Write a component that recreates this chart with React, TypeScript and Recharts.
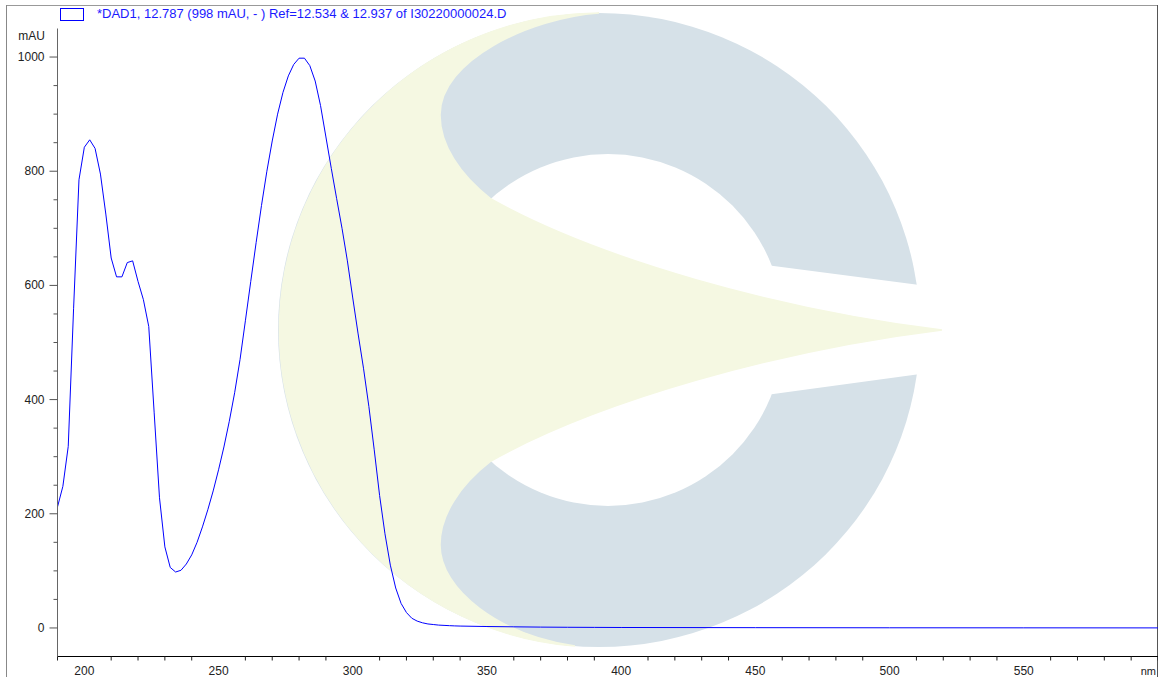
import React from 'react';
import { LineChart, Line, XAxis, YAxis } from 'recharts';

// UV spectrum (nm, mAU)
const wavelengths = [
  190, 192, 194, 196, 198, 200, 202, 204, 206, 208, 210, 212, 214, 216, 218, 220,
  222, 224, 226, 228, 230, 232, 234, 236, 238, 240, 242, 244, 246, 248, 250, 252,
  254, 256, 258, 260, 262, 264, 266, 268, 270, 272, 274, 276, 278, 280, 282, 284,
  286, 288, 290, 292, 294, 296, 298, 300, 302, 304, 306, 308, 310, 312, 314, 316,
  318, 320, 322, 324, 326, 328, 330, 332, 334, 336, 338, 340, 350, 360, 370, 380,
  390, 400, 450, 500, 550, 600,
];
const absorbance = [
  212, 248, 318, 560, 785, 842, 855, 840, 795, 725, 648, 615, 615, 640, 643, 607,
  575, 528, 378, 228, 142, 106, 98, 101, 112, 128, 150, 177, 207, 240, 277, 317,
  362, 412, 470, 538, 607, 675, 740, 800, 853, 900, 938, 967, 987, 998, 998, 985,
  958, 915, 860, 805, 752, 700, 643, 578, 515, 455, 388, 312, 232, 165, 110, 70,
  43, 27, 17, 12, 9, 7, 6, 5, 4.5, 4, 3.6, 3.3, 2.5, 2, 1.5, 1.2,
  1, 0.8, 0.5, 0.3, 0.2, 0.1,
];

const xTicks = [
  190, 200, 210, 220, 230, 240, 250, 260, 270, 280, 290, 300, 310, 320, 330, 340,
  350, 360, 370, 380, 390, 400, 410, 420, 430, 440, 450, 460, 470, 480, 490, 500,
  510, 520, 530, 540, 550, 560, 570, 580, 590, 600,
];
const xLabels = [200, 250, 300, 350, 400, 450, 500, 550];
const yTicks = [
  0, 50, 100, 150, 200, 250, 300, 350, 400, 450, 500, 550, 600, 650, 700, 750, 800,
  850, 900, 950, 1000,
];
const yLabels = [0, 200, 400, 600, 800, 1000];
const legendText = '*DAD1, 12.787 (998 mAU, - ) Ref=12.534 & 12.937 of I30220000024.D';

const data = wavelengths.map((nm, i) => ({ nm, mAU: absorbance[i] }));

const FONT = '"Liberation Sans", Arial, sans-serif';

const YTick = (props: any) => {
  const { x, y, payload } = props;
  const major = yLabels.includes(payload.value);
  return (
    <g>
      <line x1={x - (major ? 8 : 4)} x2={x} y1={y} y2={y} stroke="#555" />
      {major && (
        <text x={x - 13} y={y + 4} textAnchor="end" fontSize={12} fontFamily={FONT} fill="#222">
          {payload.value}
        </text>
      )}
    </g>
  );
};

const XTick = (props: any) => {
  const { x, y, payload } = props;
  const major = xLabels.includes(payload.value);
  if (major) {
    return (
      <text x={x} y={y + 18} textAnchor="middle" fontSize={12} fontFamily={FONT} fill="#222">
        {payload.value}
      </text>
    );
  }
  return <line x1={x} x2={x} y1={y} y2={y + 4} stroke="#222" />;
};

// faint logo watermark behind the plot
const Watermark = () => (
  <svg width={1158} height={677} style={{ position: 'absolute', left: 0, top: 0 }}>
    <ellipse cx={599} cy={330} rx={321} ry={317} fill="#d6e1e8" />
    <circle cx={608} cy={330} r={176} fill="#ffffff" />
    <polygon points="766,265 935,287 935,372 766,395" fill="#ffffff" />
    <path
      d="M 599 13 A 321 317 0 0 0 575 646 C 500 635 440 590 440 545 C 440 515 460 485 491 461
         C 600 400 780 350 942 330 C 780 310 600 260 491 199 C 460 175 440 145 440 115
         C 440 60 530 18 599 13 Z"
      fill="#f5f8e2"
      stroke="#f5f8e2"
      strokeWidth={1.5}
    />
    <line x1={6} x2={1158} y1={5.5} y2={5.5} stroke="#999" />
    <line x1={6.5} x2={6.5} y1={5} y2={677} stroke="#888" />
    <line x1={1157.5} x2={1157.5} y1={5} y2={677} stroke="#555" />
  </svg>
);

export default function App() {
  return (
    <div
      style={{
        position: 'fixed',
        left: 0,
        top: 0,
        width: 1158,
        height: 677,
        background: '#fff',
        overflow: 'hidden',
        fontFamily: FONT,
      }}
    >
      <Watermark />
      <div style={{ position: 'absolute', left: 0, top: 0 }}>
        <LineChart
          width={1158}
          height={677}
          data={data}
          margin={{ top: 28.5, right: 0, bottom: 0, left: 0 }}
        >
          <XAxis
            dataKey="nm"
            type="number"
            domain={[190, 600]}
            ticks={xTicks}
            interval={0}
            tickLine={false}
            tickSize={0}
            tickMargin={0}
            tick={XTick}
            axisLine={{ stroke: '#000' }}
            height={20.5}
            allowDataOverflow
          />
          <YAxis
            type="number"
            domain={[-50, 1050]}
            ticks={yTicks}
            interval={0}
            tickLine={false}
            tickSize={0}
            tickMargin={0}
            tick={YTick}
            axisLine={{ stroke: '#666' }}
            width={57.5}
            allowDataOverflow
          />
          <Line
            type="linear"
            dataKey="mAU"
            stroke="#0000ff"
            strokeWidth={1}
            dot={false}
            isAnimationActive={false}
          />
        </LineChart>
      </div>
      <svg width={1158} height={677} style={{ position: 'absolute', left: 0, top: 0, pointerEvents: 'none' }}>
        <rect x={60.5} y={8.5} width={23} height={12} fill="#fff" stroke="#0000ff" />
        <text x={97} y={17.5} fontSize={13} fontFamily={FONT} fill="#1a1aff">
          {legendText}
        </text>
        <text x={45} y={40} textAnchor="end" fontSize={12} fontFamily={FONT} fill="#222">
          mAU
        </text>
        <text x={1156} y={675} textAnchor="end" fontSize={11} fontFamily={FONT} fill="#222">
          nm
        </text>
      </svg>
    </div>
  );
}
